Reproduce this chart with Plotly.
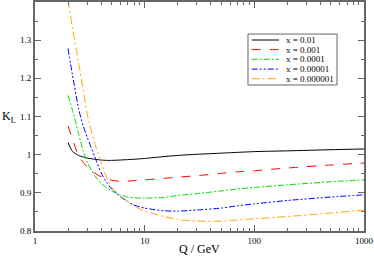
import plotly.graph_objects as go

Q = [2, 2.2, 2.5, 2.75, 3, 3.5, 4, 4.5, 5, 6, 7, 8, 10, 15, 20, 30, 50, 70, 100, 200, 500, 1000]

k_001 = [1.032, 1.008, 0.998, 0.994, 0.991, 0.988, 0.986, 0.985, 0.985, 0.986, 0.987, 0.988, 0.990,
         0.995, 0.998, 1.001, 1.004, 1.006, 1.008, 1.010, 1.013, 1.015]
k_0001 = [1.075, 1.040, 0.997, 0.980, 0.968, 0.952, 0.942, 0.936, 0.933, 0.930, 0.931, 0.932, 0.934,
          0.938, 0.941, 0.945, 0.951, 0.955, 0.958, 0.965, 0.973, 0.978]
k_00001 = [1.155, 1.116, 1.055, 1.010, 0.980, 0.945, 0.925, 0.913, 0.905, 0.895, 0.889, 0.887, 0.886,
           0.888, 0.893, 0.898, 0.905, 0.910, 0.914, 0.921, 0.929, 0.934]
k_000001 = [1.278, 1.208, 1.120, 1.075, 1.045, 0.995, 0.953, 0.927, 0.910, 0.890, 0.877, 0.868, 0.860,
            0.853, 0.852, 0.855, 0.860, 0.866, 0.871, 0.880, 0.889, 0.895]
k_0000001 = [1.405, 1.330, 1.240, 1.170, 1.105, 1.030, 0.980, 0.940, 0.915, 0.893, 0.878, 0.866, 0.852,
             0.838, 0.830, 0.826, 0.826, 0.829, 0.832, 0.838, 0.847, 0.855]

names = ["x = 0.01", "x = 0.001", "x = 0.0001", "x = 0.00001", "x = 0.000001"]
series = [k_001, k_0001, k_00001, k_000001, k_0000001]
colors = ["#000000", "#ff0000", "#00dd00", "#0000ff", "#ffa500"]
dashes = ["solid", "dash", "6px,2px,2px,2px", "6px,2px,2px,2px,2px,2px", "8px,3px,2px,3px"]

fig = go.Figure()
for n, s, c, d in zip(names, series, colors, dashes):
    fig.add_trace(go.Scatter(x=Q, y=s, mode="lines", name=n, showlegend=False,
                             line=dict(color=c, width=1, dash=d, shape="spline", smoothing=0.6)))

axis_common = dict(showline=True, linecolor="#666666", linewidth=2, mirror="allticks",
                   ticks="inside", tickcolor="#666666", ticklen=6, tickwidth=1,
                   showgrid=False, zeroline=False, automargin=False,
                   tickfont=dict(family="Liberation Serif", size=9, color="#000000"))

fig.update_xaxes(type="log", range=[0, 3], tickvals=[1, 10, 100, 1000], ticktext=["1", "10", "100", "1000"],
                 minor=dict(tickvals=[2, 3, 4, 5, 6, 7, 8, 9, 20, 30, 40, 50, 60, 70, 80, 90,
                                      200, 300, 400, 500, 600, 700, 800, 900],
                            ticks="inside", ticklen=3, tickcolor="#666666", showgrid=False),
                 **axis_common)
fig.update_yaxes(range=[0.8, 1.4], tickvals=[0.8, 0.9, 1.0, 1.1, 1.2, 1.3],
                 ticktext=["0.8", "0.9", "1", "1.1", "1.2", "1.3"],
                 minor=dict(dtick=0.05, tick0=0.8, ticks="inside", ticklen=3, tickcolor="#666666",
                            showgrid=False),
                 **axis_common)

# axis titles
fig.add_annotation(text="Q / GeV", xref="paper", yref="paper", x=0.5, y=-0.038, yanchor="top",
                   showarrow=False, font=dict(family="Liberation Serif", size=12, color="#000"))
fig.add_annotation(text="K<sub>L</sub>", xref="paper", yref="paper", x=-0.052, y=0.5,
                   xanchor="right", yanchor="middle", showarrow=False, textangle=0,
                   font=dict(family="Liberation Serif", size=12, color="#000"))

# legend (drawn in plot-area fractions)
box = dict(x0=0.6474, x1=0.918, y0=0.6376, y1=0.860)
fig.add_shape(type="rect", xref="paper", yref="paper", line=dict(color="#666666", width=1),
              fillcolor="white", layer="above", **box)
row_y = [0.834, 0.792, 0.750, 0.707, 0.665]
for n, c, d, yy in zip(names, colors, dashes, row_y):
    fig.add_shape(type="line", xref="paper", yref="paper", x0=0.6587, x1=0.7416, y0=yy, y1=yy,
                  line=dict(color=c, width=1, dash=d), layer="above")
    fig.add_annotation(text=n, xref="paper", yref="paper", x=0.758, y=yy, xanchor="left",
                       yanchor="middle", showarrow=False,
                       font=dict(family="Liberation Serif", size=9, color="#000"))

fig.update_layout(width=374, height=257, margin=dict(l=35, r=10, t=2, b=26),
                  plot_bgcolor="white", paper_bgcolor="white", showlegend=False,
                  font=dict(family="Liberation Serif", size=9, color="#000"))

fig.write_html("out.html", config={"displayModeBar": False})
with open("out.html", "r", encoding="utf-8") as f:
    html = f.read()
html = html.replace("<head>", "<head><style>html,body{margin:0;padding:0;overflow:hidden;}</style>", 1)
with open("out.html", "w", encoding="utf-8") as f:
    f.write(html)
